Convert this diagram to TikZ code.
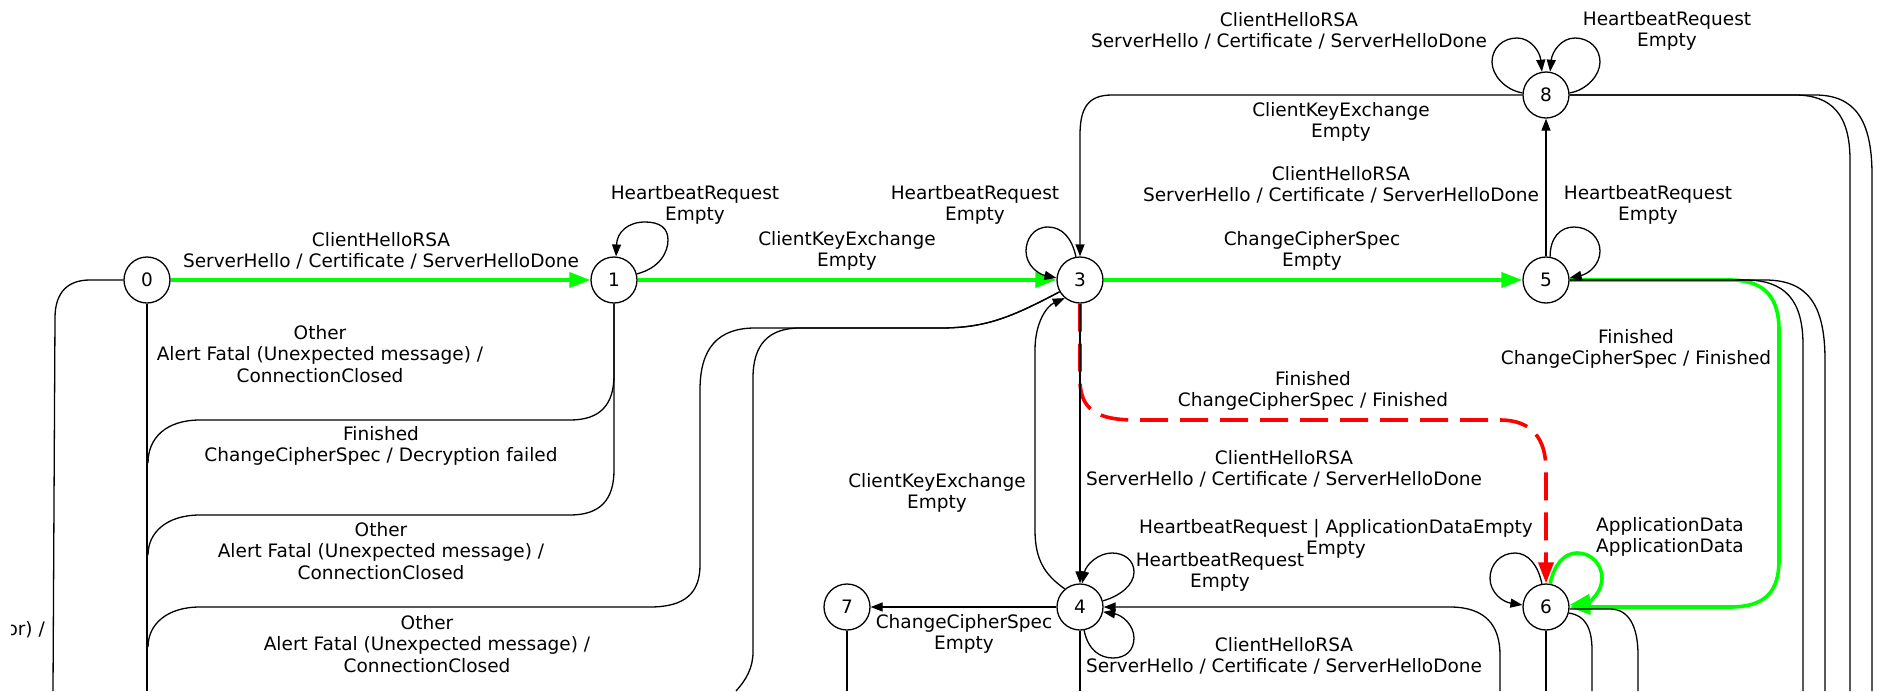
\documentclass[tikz,border=0pt]{standalone}
\usepackage{fontspec}
\setmainfont{DejaVu Sans}
\usetikzlibrary{arrows.meta}
\definecolor{okgreen}{RGB}{0,255,0}
\definecolor{badred}{RGB}{255,0,0}
\begin{document}
\begin{tikzpicture}[x=1pt,y=-1pt,
  every node/.style={font=\fontsize{18.5pt}{21.5pt}\selectfont},
  state/.style={circle,draw,line width=1.3pt,minimum size=46pt,inner sep=0pt},
  lbl/.style={align=center,inner sep=0pt},
  conn/.style={line width=1.3pt},
  arr/.style={conn,-{Triangle[length=12pt,width=9pt]}},
  good/.style={line width=3.6pt,draw=okgreen,-{Triangle[length=21pt,width=15pt]}},
  bad/.style={line width=3.6pt,draw=badred,dash pattern=on 28pt off 12pt,-{Triangle[length=21pt,width=15pt]}}]
\useasboundingbox (0,0) rectangle (1877,691);

% states
\node[state] (n0) at (147,280) {0};
\node[state] (n1) at (614,280) {1};
\node[state] (n3) at (1080,280) {3};
\node[state] (n5) at (1546,280) {5};
\node[state] (n8) at (1546,95) {8};
\node[state] (n4) at (1080,607) {4};
\node[state] (n7) at (847,607) {7};
\node[state] (n6) at (1546,607) {6};

% loose ends leaving the drawing area
\coordinate (e0a) at (53,691);
\coordinate (e0b) at (147,691);
\coordinate (m1) at (148,463);
\coordinate (m2) at (148,555);
\coordinate (m3) at (148,647);
\coordinate (e3a) at (736,691);
\coordinate (e4) at (1080,691);
\coordinate (e7) at (847,691);
\coordinate (s4) at (1500,691);
\coordinate (e6a) at (1592,691);
\coordinate (e6b) at (1638,691);
\coordinate (e6c) at (1546,691);
\coordinate (e5a) at (1803,691);
\coordinate (e5b) at (1825,691);
\coordinate (e8a) at (1850,691);
\coordinate (e8b) at (1872,691);

% happy path
\draw[good] (n0) -- (n1);
\draw[good] (n1) -- (n3);
\draw[good] (n3) -- (n5);
\draw[good] (n5.east) -- (1730,280) .. controls (1765,280) and (1779,298) .. (1779,330)
  -- (1779,560) .. controls (1779,592) and (1765,607) .. (1730,607) -- (n6.east);
\draw[good] (n6.80) .. controls (1554,565) and (1564,553) .. (1577,553)
  .. controls (1592,553) and (1602,565) .. (1602,578)
  .. controls (1602,593) and (1589,602) .. (n6.5);

% faulty transition
\draw[bad] (n3.south) -- (1080,380) .. controls (1080,410) and (1098,420) .. (1135,420)
  -- (1500,420) .. controls (1533,420) and (1546,440) .. (1546,470) -- (n6.north);

% other transitions
\draw[arr] (n5) -- (n8);
\draw[arr] (n3) -- (n4);
\draw[arr] (n4) -- (n7);
\draw[arr] (n8.west) -- (1112,95) .. controls (1088,95) and (1080,108) .. (1080,135) -- (n3.north);
\draw[arr] (n4.130) .. controls (1045,575) and (1035,560) .. (1035,530) -- (1035,350)
  .. controls (1035,322) and (1047,306) .. (n3.230);
\draw[arr] (s4) -- (1500,655) .. controls (1500,625) and (1485,607) .. (1450,607) -- (n4.east);

% self loops
\draw[arr] (n1.15) .. controls (660,268) and (668,252) .. (668,240)
  .. controls (668,228) and (660,222) .. (645,222)
  .. controls (628,222) and (617,232) .. (n1.85);
\draw[arr] (n3.100) .. controls (1072,238) and (1062,227) .. (1048,227)
  .. controls (1033,227) and (1026,240) .. (1026,251)
  .. controls (1026,265) and (1038,274) .. (n3.175);
\draw[arr] (n5.80) .. controls (1550,238) and (1560,227) .. (1574,227)
  .. controls (1589,227) and (1600,238) .. (1600,251)
  .. controls (1600,265) and (1588,274) .. (n5.5);
\draw[arr] (n8.175) .. controls (1505,90) and (1492,75) .. (1492,62)
  .. controls (1492,48) and (1503,38) .. (1517,38)
  .. controls (1531,38) and (1540,52) .. (n8.100);
\draw[arr] (n8.5) .. controls (1587,90) and (1600,75) .. (1600,62)
  .. controls (1600,48) and (1589,38) .. (1575,38)
  .. controls (1561,38) and (1552,52) .. (n8.80);
\draw[arr] (n6.100) .. controls (1538,565) and (1528,553) .. (1515,553)
  .. controls (1500,553) and (1490,565) .. (1490,578)
  .. controls (1490,593) and (1503,602) .. (n6.175);
\draw[arr] (n4.15) .. controls (1120,596) and (1134,585) .. (1134,572)
  .. controls (1134,560) and (1124,553) .. (1112,553)
  .. controls (1098,553) and (1086,565) .. (n4.85);
\draw[arr] (n4.280) .. controls (1088,650) and (1100,658) .. (1113,658)
  .. controls (1126,658) and (1134,650) .. (1134,638)
  .. controls (1134,625) and (1122,615) .. (n4.-12);

% edges running off the drawing area
\draw[conn] (n0.west) -- (90,280) .. controls (68,280) and (55,292) .. (55,318) -- (e0a);
\draw[conn] (n0) -- (e0b);
\draw[conn] (n1.south) -- (614,375) .. controls (614,405) and (600,420) .. (570,420)
  -- (200,420) .. controls (166,420) and (148,438) .. (m1);
\draw[conn] (n1.south) -- (614,470) .. controls (614,500) and (600,515) .. (570,515)
  -- (200,515) .. controls (166,515) and (148,533) .. (m2);
\draw[conn] (n3.210) .. controls (1010,318) and (985,328) .. (940,328) -- (800,328)
  .. controls (768,328) and (753,345) .. (753,378) -- (753,652)
  .. controls (753,668) and (746,680) .. (e3a);
\draw[conn] (n3.210) .. controls (1010,318) and (985,328) .. (940,328) -- (755,328)
  .. controls (718,328) and (700,348) .. (700,390) -- (700,565)
  .. controls (700,593) and (685,607) .. (650,607) -- (200,607)
  .. controls (166,607) and (148,625) .. (m3);
\draw[conn] (n4) -- (e4);
\draw[conn] (n7) -- (e7);
\draw[conn] (n6) -- (e6c);
\draw[conn] (n6.-15) .. controls (1585,615) and (1592,628) .. (1592,650) -- (e6a);
\draw[conn] (n6.-5) -- (1610,609) .. controls (1628,609) and (1638,625) .. (1638,655) -- (e6b);
\draw[conn] (n5.east) -- (1745,280) .. controls (1785,280) and (1803,300) .. (1803,345) -- (e5a);
\draw[conn] (n5.east) -- (1765,280) .. controls (1808,280) and (1825,305) .. (1825,360) -- (e5b);
\draw[conn] (n8.east) -- (1795,95) .. controls (1832,95) and (1850,115) .. (1850,160) -- (e8a);
\draw[conn] (n8.east) -- (1815,95) .. controls (1855,95) and (1872,120) .. (1872,175) -- (e8b);

% transition labels
\node[lbl] (t01) at (381,251) {ClientHelloRSA\\ServerHello / Certificate / ServerHelloDone};
\node[lbl] (t11) at (695,205) {HeartbeatRequest\\Empty};
\node[lbl] (t13) at (847,251) {ClientKeyExchange\\Empty};
\node[lbl] (t33) at (975,205) {HeartbeatRequest\\Empty};
\node[lbl] (t83) at (1341,122) {ClientKeyExchange\\Empty};
\node[lbl] (t58) at (1341,185) {ClientHelloRSA\\ServerHello / Certificate / ServerHelloDone};
\node[lbl] (t35) at (1312,251) {ChangeCipherSpec\\Empty};
\node[lbl] (t55) at (1648,205) {HeartbeatRequest\\Empty};
\node[lbl] (t88a) at (1289,31) {ClientHelloRSA\\ServerHello / Certificate / ServerHelloDone};
\node[lbl] (t88b) at (1667,31) {HeartbeatRequest\\Empty};
\node[lbl] (t0x) at (320,354) {Other\\Alert Fatal (Unexpected message) /\\ConnectionClosed};
\node[lbl] (t1x) at (381,446) {Finished\\ChangeCipherSpec / Decryption failed};
\node[lbl] (t1y) at (381,551) {Other\\Alert Fatal (Unexpected message) /\\ConnectionClosed};
\node[lbl] (t3x) at (427,644) {Other\\Alert Fatal (Unexpected message) /\\ConnectionClosed};
\node[lbl] (t36) at (1313,391) {Finished\\ChangeCipherSpec / Finished};
\node[lbl] (t56) at (1636,349) {Finished\\ChangeCipherSpec / Finished};
\node[lbl] (t34) at (1284,469) {ClientHelloRSA\\ServerHello / Certificate / ServerHelloDone};
\node[lbl] (t43) at (937,493) {ClientKeyExchange\\Empty};
\node[lbl] (t66) at (1336,539) {HeartbeatRequest | ApplicationDataEmpty\\Empty};
\node[lbl] (t44a) at (1220,572) {HeartbeatRequest\\Empty};
\node[lbl] (t66g) at (1670,537) {ApplicationData\\ApplicationData};
\node[lbl] (t47) at (964,634) {ChangeCipherSpec\\Empty};
\node[lbl] (t44b) at (1284,656) {ClientHelloRSA\\ServerHello / Certificate / ServerHelloDone};
\begin{scope}
  \clip (11,600) rectangle (60,660);
  \node[lbl,anchor=east] (t0y) at (45,630) {or) /};
\end{scope}
\end{tikzpicture}
\end{document}
